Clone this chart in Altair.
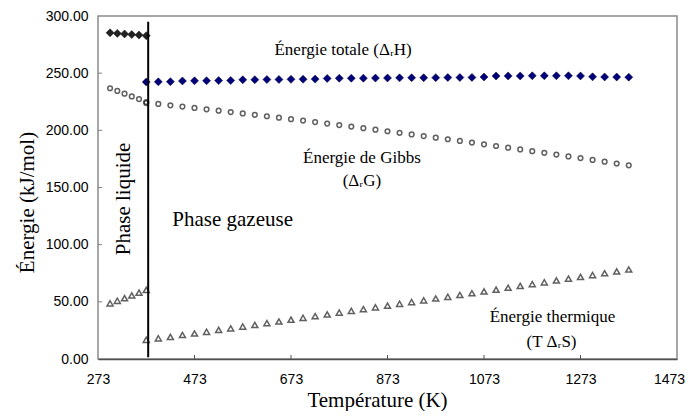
import altair as alt
import pandas as pd

# ---------------- data ----------------
x_ticks = [273, 473, 673, 873, 1073, 1273, 1473]
y_ticks = [0, 50, 100, 150, 200, 250, 300]

liq_T = [298, 313, 328, 343, 358, 373]
liq_H = [285.3, 284.8, 284.3, 283.8, 283.3, 282.8]
liq_G = [236.8, 234.5, 232.1, 229.7, 227.3, 224.8]
liq_TS = [48.7, 50.9, 53.2, 55.6, 58.0, 60.4]

gas_T = [373, 398, 423, 448, 473, 498, 523, 548, 573, 598, 623, 648, 673, 698,
         723, 748, 773, 798, 823, 848, 873, 898, 923, 948, 973, 998, 1023, 1048,
         1073, 1098, 1123, 1148, 1173, 1198, 1223, 1248, 1273, 1298, 1323, 1348, 1373]
gas_H = [242.3, 242.4, 242.6, 243.2, 243.3, 243.4, 243.5, 243.6, 244.2, 244.3,
         244.4, 244.5, 244.6, 244.7, 244.8, 245.4, 245.5, 245.6, 245.6, 245.7,
         245.8, 245.9, 246.0, 246.0, 246.1, 246.2, 246.2, 246.3, 246.6, 247.5,
         247.6, 247.6, 247.7, 247.7, 247.7, 247.7, 247.6, 246.8, 246.7, 246.6, 246.5]
gas_G = [223.8, 223.1, 221.9, 220.8, 219.6, 218.4, 217.2, 216.0, 214.8, 213.6,
         212.3, 211.1, 209.8, 208.5, 207.2, 205.9, 204.6, 203.3, 201.9, 200.6,
         199.2, 197.8, 196.4, 195.0, 193.6, 192.2, 190.7, 189.3, 187.8, 186.3,
         184.8, 183.3, 181.8, 180.3, 178.8, 177.2, 175.7, 174.1, 172.6, 171.0, 169.4]
gas_TS = [16.8, 18.1, 19.3, 21.0, 22.3, 23.8, 25.4, 26.8, 28.4, 29.8,
          31.4, 32.8, 34.4, 36.0, 37.5, 39.0, 40.6, 42.1, 43.6, 45.2,
          46.7, 48.3, 49.8, 51.3, 52.9, 54.4, 56.0, 57.5, 59.1, 60.6,
          62.3, 63.9, 65.5, 67.1, 68.7, 70.3, 71.8, 73.4, 75.0, 76.6, 78.3]

# phase boundary line
boundary_T = [377, 377]
boundary_E = [1.5, 295]

# annotations
ann_text = ["Énergie totale (ΔᵣH)", "Énergie de Gibbs", "(ΔᵣG)", "Phase gazeuse",
            "Énergie thermique", "(T ΔᵣS)"]
ann_T = [781, 820, 820, 552, 1215, 1213]
ann_E = [266.0, 171.4, 150.9, 116.3, 32.4, 10.9]
ann_size = [17, 17, 17, 21, 17, 17]

vert_text = ["Phase liquide"]
vert_T = [339]
vert_E = [140]

# ---------------- chart ----------------
xs = alt.Scale(domain=[273, 1473], nice=False, zero=False)
ys = alt.Scale(domain=[0, 300], nice=False, zero=False)

xaxis = alt.Axis(values=x_ticks, format="d", title="Température (K)", grid=False,
                 ticks=False, tickSize=0, labelFont="Liberation Sans",
                 labelFontSize=14, labelColor="black", labelPadding=13,
                 labelFlush=False,
                 labelOffset=alt.ExprRef("datum.value == 1473 ? -8 : 0"),
                 domainColor="#505050", domainWidth=1.5,
                 titleFont="Liberation Serif", titleFontSize=21,
                 titleFontWeight="normal", titleColor="black",
                 titleX=279, titleY=47, titleAlign="center",
                 titleBaseline="alphabetic")
yaxis = alt.Axis(values=y_ticks, format=".2f", title="Énergie (kJ/mol)",
                 grid=False, ticks=False, tickSize=0, domain=False,
                 labelFont="Liberation Sans", labelFontSize=14,
                 labelColor="black", labelPadding=10,
                 titleFont="Liberation Serif", titleFontSize=21,
                 titleFontWeight="normal", titleColor="black",
                 titleX=-71, titleY=186, titleAngle=270, titleAlign="center",
                 titleBaseline="middle")

liq = pd.DataFrame({"T": liq_T, "H": liq_H, "G": liq_G, "TS": liq_TS})
gas = pd.DataFrame({"T": gas_T, "H": gas_H, "G": gas_G, "TS": gas_TS})

base_liq = alt.Chart(liq)
base_gas = alt.Chart(gas)

mk_tri = dict(shape="triangle-up", size=36, filled=False, color="#1e1e1e",
              strokeWidth=1.5)
mk_circ = dict(shape="circle", size=22, filled=False, color="#1e1e1e",
               strokeWidth=1.5)

ts_gas = base_gas.mark_point(**mk_tri).encode(
    x=alt.X("T:Q", scale=xs, axis=xaxis), y=alt.Y("TS:Q", scale=ys, axis=yaxis))
ts_liq = base_liq.mark_point(**mk_tri).encode(
    x=alt.X("T:Q", scale=xs), y=alt.Y("TS:Q", scale=ys))
g_gas = base_gas.mark_point(**mk_circ).encode(
    x=alt.X("T:Q", scale=xs), y=alt.Y("G:Q", scale=ys))
g_liq = base_liq.mark_point(**mk_circ).encode(
    x=alt.X("T:Q", scale=xs), y=alt.Y("G:Q", scale=ys))
h_liq = base_liq.mark_point(shape="diamond", size=64, filled=True,
                            fill="#222222", stroke="#111111", strokeWidth=0.5,
                            opacity=1).encode(
    x=alt.X("T:Q", scale=xs), y=alt.Y("H:Q", scale=ys))
h_gas = base_gas.mark_point(shape="diamond", size=64, filled=True,
                            fill="#00007a", stroke="#000033", strokeWidth=0.5,
                            opacity=1).encode(
    x=alt.X("T:Q", scale=xs), y=alt.Y("H:Q", scale=ys))

bdf = pd.DataFrame({"T": boundary_T, "E": boundary_E})
boundary = alt.Chart(bdf).mark_line(color="black", strokeWidth=2).encode(
    x=alt.X("T:Q", scale=xs), y=alt.Y("E:Q", scale=ys))

xt = pd.DataFrame({"v": x_ticks[1:-1]})
yt = pd.DataFrame({"v": y_ticks[1:-1]})
xtick_marks = alt.Chart(xt).mark_rule(color="#505050", strokeWidth=1).encode(
    x=alt.X("v:Q", scale=xs), y=alt.value(339), y2=alt.value(343))
ytick_marks = alt.Chart(yt).mark_rule(color="#808080", strokeWidth=1).encode(
    y=alt.Y("v:Q", scale=ys), x=alt.value(0), x2=alt.value(4))

adf = pd.DataFrame({"text": ann_text, "T": ann_T, "E": ann_E, "s": ann_size})
ann = alt.Chart(adf).mark_text(font="Liberation Serif", color="black",
                               align="center", baseline="alphabetic").encode(
    x=alt.X("T:Q", scale=xs), y=alt.Y("E:Q", scale=ys), text="text:N",
    size=alt.Size("s:Q", scale=None, legend=None))

vdf = pd.DataFrame({"text": vert_text, "T": vert_T, "E": vert_E})
vert = alt.Chart(vdf).mark_text(font="Liberation Serif", color="black",
                                fontSize=21, angle=270, align="center",
                                baseline="alphabetic").encode(
    x=alt.X("T:Q", scale=xs), y=alt.Y("E:Q", scale=ys), text="text:N")

chart = alt.layer(ts_gas, ts_liq, g_gas, g_liq, h_liq, h_gas, boundary,
                  xtick_marks, ytick_marks, ann, vert).properties(
    width=579, height=343,
    autosize=alt.AutoSizeParams(type="none"),
    padding={"left": 90, "top": 8, "right": 8, "bottom": 52},
    background="white",
).configure_view(stroke="#8a8a8a", strokeWidth=1.5)

chart.save("out.html", embed_options={"renderer": "svg", "actions": False})
